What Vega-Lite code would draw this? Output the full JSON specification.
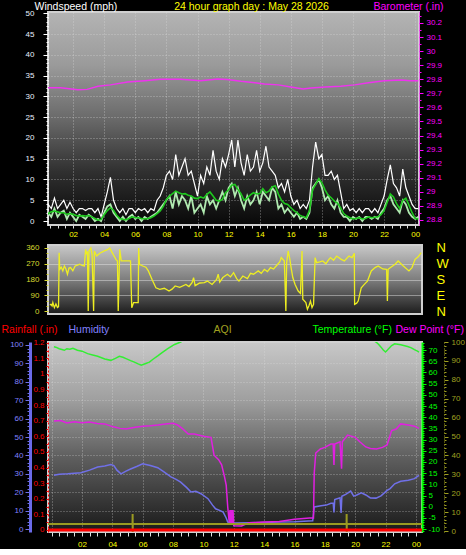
{
"$schema": "https://vega.github.io/schema/vega-lite/v6.json",
"background": "#000000",
"padding": 0,
"spacing": 1,
"config": {
 "font": "Liberation Sans",
 "axis": {"labelFont": "Liberation Sans", "titleFont": "Liberation Sans", "labelFontSize": 8, "titleFontSize": 10.5, "titleFontWeight": "normal", "labelOverlap": false, "labelFlush": false, "labelBound": false, "grid": false}
},
"datasets": {
 "wind": [
  {"t":0,"g":3,"w":1,"a":1},{"t":0.2,"g":2,"w":0,"a":1.2},{"t":0.4,"g":4,"w":2,"a":1.8},{"t":0.6,"g":3,"w":1,"a":2.2},{"t":0.8,"g":5.5,"w":3,"a":2.4},
  {"t":1,"g":3,"w":1,"a":2.2},{"t":1.2,"g":4,"w":2,"a":2},{"t":1.4,"g":5,"w":2.5,"a":2},{"t":1.6,"g":3,"w":0.5,"a":1.6},{"t":1.8,"g":4.5,"w":2,"a":1.8},
  {"t":2,"g":3,"w":1,"a":1.6},{"t":2.2,"g":2,"w":0,"a":1.3},{"t":2.4,"g":3,"w":1.5,"a":1.2},{"t":2.6,"g":3,"w":1,"a":1.3},{"t":2.8,"g":2.5,"w":0.5,"a":1.2},
  {"t":3,"g":3,"w":1.5,"a":1.3},{"t":3.2,"g":3,"w":1,"a":1},{"t":3.4,"g":2,"w":0,"a":0.6},{"t":3.6,"g":3,"w":0.5,"a":0.2},{"t":3.8,"g":1,"w":0,"a":0.4},
  {"t":4,"g":4,"w":2,"a":1.5},{"t":4.2,"g":7,"w":3.5,"a":2.5},{"t":4.4,"g":10.5,"w":4,"a":3.2},{"t":4.6,"g":5,"w":2,"a":2.6},{"t":4.8,"g":3,"w":1,"a":1.4},
  {"t":5,"g":2,"w":0,"a":0.6},{"t":5.2,"g":3,"w":1,"a":0.4},{"t":5.4,"g":1.5,"w":0,"a":0.3},{"t":5.6,"g":3,"w":1,"a":0.6},{"t":5.8,"g":3,"w":1.5,"a":1},
  {"t":6,"g":2,"w":0.5,"a":0.8},{"t":6.2,"g":3,"w":1,"a":0.8},{"t":6.4,"g":2.5,"w":0,"a":0.6},{"t":6.6,"g":3,"w":1,"a":0.5},{"t":6.8,"g":2,"w":0.5,"a":0.6},
  {"t":7,"g":3,"w":1,"a":0.8},{"t":7.2,"g":2.5,"w":1.5,"a":1.2},{"t":7.4,"g":5,"w":2,"a":1.8},{"t":7.6,"g":6,"w":3,"a":2.4},{"t":7.8,"g":8,"w":4,"a":3.5},
  {"t":8,"g":11,"w":5,"a":5.2},{"t":8.2,"g":12,"w":6,"a":6},{"t":8.4,"g":10,"w":3,"a":6.6},{"t":8.6,"g":16,"w":7,"a":7.2},{"t":8.8,"g":11,"w":4,"a":6.8},
  {"t":9,"g":13,"w":6,"a":6.5},{"t":9.2,"g":15,"w":5,"a":6.6},{"t":9.4,"g":11,"w":3,"a":6.2},{"t":9.6,"g":12,"w":6,"a":6},{"t":9.8,"g":9,"w":2,"a":5.5},
  {"t":10,"g":6,"w":3,"a":5.4},{"t":10.2,"g":11,"w":4,"a":5.8},{"t":10.4,"g":9,"w":2,"a":5.5},{"t":10.6,"g":13,"w":6,"a":6.4},{"t":10.8,"g":11,"w":4,"a":7},
  {"t":11,"g":17,"w":5,"a":6},{"t":11.2,"g":12,"w":3,"a":5},{"t":11.4,"g":10,"w":5,"a":4.8},{"t":11.6,"g":15,"w":7,"a":5.2},{"t":11.8,"g":13,"w":5,"a":6.8},
  {"t":12,"g":16,"w":8,"a":7.5},{"t":12.2,"g":19.5,"w":9,"a":8.6},{"t":12.4,"g":13,"w":6,"a":8.8},{"t":12.6,"g":19.5,"w":8,"a":7.6},{"t":12.8,"g":14,"w":5,"a":6.5},
  {"t":13,"g":11,"w":3,"a":5},{"t":13.2,"g":16,"w":6,"a":5.5},{"t":13.4,"g":12,"w":4,"a":6.3},{"t":13.6,"g":13,"w":5,"a":6.8},{"t":13.8,"g":17,"w":7,"a":6.5},
  {"t":14,"g":12,"w":4,"a":6.6},{"t":14.2,"g":14,"w":7,"a":7.8},{"t":14.4,"g":18,"w":6,"a":6.8},{"t":14.6,"g":13,"w":5,"a":7.2},{"t":14.8,"g":12,"w":8,"a":8.2},
  {"t":15,"g":11,"w":7,"a":8.5},{"t":15.2,"g":8,"w":3,"a":6.5},{"t":15.4,"g":9,"w":4,"a":5},{"t":15.6,"g":7,"w":2,"a":4.2},{"t":15.8,"g":10,"w":3,"a":4},
  {"t":16,"g":6,"w":2,"a":3.2},{"t":16.2,"g":4,"w":1,"a":2.5},{"t":16.4,"g":5,"w":2,"a":2},{"t":16.6,"g":3,"w":0.5,"a":1.3},{"t":16.8,"g":4,"w":1,"a":1},
  {"t":17,"g":3,"w":0.5,"a":0.8},{"t":17.2,"g":5,"w":2,"a":2.5},{"t":17.4,"g":13,"w":8,"a":7.5},{"t":17.6,"g":19,"w":9,"a":8.8},{"t":17.8,"g":15,"w":10,"a":10.2},
  {"t":18,"g":16,"w":8,"a":9.2},{"t":18.2,"g":11,"w":5,"a":7.5},{"t":18.4,"g":11,"w":6,"a":6.2},{"t":18.6,"g":12,"w":4,"a":5.6},{"t":18.8,"g":10,"w":3,"a":4.8},
  {"t":19,"g":11,"w":5,"a":4.3},{"t":19.2,"g":7,"w":2,"a":3.2},{"t":19.4,"g":3,"w":1,"a":1.8},{"t":19.6,"g":4,"w":1,"a":1.2},{"t":19.8,"g":2.5,"w":0,"a":0.8},
  {"t":20,"g":3,"w":1,"a":0.5},{"t":20.2,"g":2,"w":0.5,"a":0.6},{"t":20.4,"g":3,"w":1,"a":0.8},{"t":20.6,"g":2,"w":0,"a":0.5},{"t":20.8,"g":3,"w":1,"a":0.6},
  {"t":21,"g":3,"w":1,"a":1},{"t":21.2,"g":2,"w":0.5,"a":0.8},{"t":21.4,"g":3,"w":1,"a":0.9},{"t":21.6,"g":2,"w":0.5,"a":1},{"t":21.8,"g":4,"w":2,"a":1.5},
  {"t":22,"g":6,"w":3,"a":2.5},{"t":22.2,"g":10,"w":5,"a":4.5},{"t":22.4,"g":13.5,"w":6,"a":6.5},{"t":22.6,"g":9,"w":4,"a":5.8},{"t":22.8,"g":8,"w":3,"a":4.2},
  {"t":23,"g":6,"w":2,"a":3},{"t":23.2,"g":12.5,"w":5,"a":5},{"t":23.4,"g":8,"w":4,"a":5.5},{"t":23.6,"g":6,"w":2,"a":3.8},{"t":23.8,"g":4,"w":1,"a":2},
  {"t":24,"g":3,"w":0.5,"a":0.6},{"t":24.2,"g":3,"w":1,"a":0.5}
 ],
 "baro": [
  {"t":0.1,"p":29.74},{"t":1.2,"p":29.74},{"t":2.3,"p":29.726},{"t":2.9,"p":29.728},{"t":3.6,"p":29.75},{"t":4.4,"p":29.76},{"t":5.5,"p":29.78},
  {"t":6.6,"p":29.79},{"t":7.6,"p":29.8},{"t":8.9,"p":29.8},{"t":10.2,"p":29.79},{"t":11.3,"p":29.802},{"t":11.9,"p":29.798},{"t":12.8,"p":29.785},
  {"t":13.7,"p":29.775},{"t":14.3,"p":29.766},{"t":15.2,"p":29.76},{"t":16,"p":29.745},{"t":16.8,"p":29.73},{"t":17.3,"p":29.738},{"t":18.2,"p":29.745},
  {"t":19.2,"p":29.75},{"t":20.1,"p":29.76},{"t":21,"p":29.775},{"t":22,"p":29.79},{"t":23.1,"p":29.795},{"t":23.7,"p":29.79},{"t":24.2,"p":29.79}
 ],
 "dir": [
  {"t":0.05,"d":35},{"t":0.13,"d":38},{"t":0.2,"d":29},{"t":0.25,"d":48},{"t":0.35,"d":19},{"t":0.45,"d":40},{"t":0.55,"d":20},{"t":0.62,"d":25},{"t":0.66,"d":333},
  {"t":0.7,"d":238},{"t":0.8,"d":250},{"t":0.9,"d":229},{"t":1,"d":257},{"t":1.1,"d":240},{"t":1.2,"d":210},{"t":1.3,"d":245},{"t":1.4,"d":248},{"t":1.55,"d":230},
  {"t":1.7,"d":257},{"t":1.85,"d":262},{"t":2,"d":267},{"t":2.15,"d":260},{"t":2.3,"d":257},{"t":2.38,"d":352},{"t":2.45,"d":324},{"t":2.5,"d":340},{"t":2.55,"d":0},
  {"t":2.6,"d":343},{"t":2.72,"d":360},{"t":2.8,"d":324},{"t":2.9,"d":0},{"t":2.95,"d":343},{"t":3.1,"d":314},{"t":3.3,"d":330},{"t":3.6,"d":343},{"t":3.8,"d":350},
  {"t":3.95,"d":360},{"t":4.1,"d":335},{"t":4.35,"d":295},{"t":4.45,"d":286},{"t":4.5,"d":0},{"t":4.6,"d":352},{"t":4.7,"d":286},{"t":5,"d":286},{"t":5.3,"d":286},
  {"t":5.38,"d":19},{"t":5.5,"d":48},{"t":5.8,"d":48},{"t":5.83,"d":360},{"t":5.88,"d":267},{"t":6.1,"d":257},{"t":6.3,"d":250},{"t":6.46,"d":229},{"t":6.7,"d":180},
  {"t":6.95,"d":133},{"t":7.2,"d":124},{"t":7.5,"d":130},{"t":7.8,"d":114},{"t":8,"d":125},{"t":8.2,"d":143},{"t":8.5,"d":135},{"t":8.9,"d":152},{"t":9.1,"d":140},
  {"t":9.3,"d":162},{"t":9.4,"d":190},{"t":9.5,"d":145},{"t":9.8,"d":160},{"t":10.1,"d":162},{"t":10.3,"d":171},{"t":10.6,"d":152},{"t":10.9,"d":181},{"t":11,"d":210},
  {"t":11.1,"d":165},{"t":11.3,"d":191},{"t":11.6,"d":210},{"t":11.8,"d":195},{"t":12,"d":219},{"t":12.2,"d":185},{"t":12.35,"d":171},{"t":12.6,"d":200},{"t":12.9,"d":185},
  {"t":13.1,"d":215},{"t":13.3,"d":210},{"t":13.6,"d":229},{"t":13.8,"d":215},{"t":14,"d":238},{"t":14.2,"d":225},{"t":14.4,"d":248},{"t":14.6,"d":240},{"t":14.87,"d":267},
  {"t":15,"d":280},{"t":15.1,"d":305},{"t":15.3,"d":285},{"t":15.4,"d":0},{"t":15.45,"d":276},{"t":15.55,"d":343},{"t":15.65,"d":300},{"t":15.74,"d":248},{"t":15.85,"d":191},
  {"t":16,"d":152},{"t":16.2,"d":114},{"t":16.35,"d":100},{"t":16.45,"d":343},{"t":16.5,"d":67},{"t":16.7,"d":48},{"t":16.8,"d":10},{"t":16.9,"d":30},{"t":17,"d":57},
  {"t":17.1,"d":20},{"t":17.2,"d":38},{"t":17.3,"d":305},{"t":17.4,"d":276},{"t":17.6,"d":280},{"t":17.8,"d":286},{"t":18,"d":270},{"t":18.2,"d":295},{"t":18.3,"d":305},
  {"t":18.5,"d":290},{"t":18.7,"d":314},{"t":19,"d":295},{"t":19.2,"d":286},{"t":19.5,"d":314},{"t":19.7,"d":305},{"t":19.85,"d":330},{"t":19.87,"d":38},{"t":20,"d":45},
  {"t":20.1,"d":57},{"t":20.3,"d":133},{"t":20.5,"d":152},{"t":20.7,"d":170},{"t":20.95,"d":229},{"t":21.2,"d":248},{"t":21.4,"d":257},{"t":21.7,"d":240},{"t":21.95,"d":238},
  {"t":22,"d":57},{"t":22.05,"d":238},{"t":22.2,"d":248},{"t":22.5,"d":267},{"t":22.7,"d":286},{"t":23,"d":260},{"t":23.4,"d":229},{"t":23.6,"d":248},{"t":23.8,"d":295},
  {"t":24,"d":310},{"t":24.2,"d":333}
 ],
 "temp": [
  {"t":0.15,"v":71.5},{"t":0.27,"v":71.3},{"t":0.5,"v":70.6},{"t":0.84,"v":69.9},{"t":1,"v":70.6},{"t":1.2,"v":70.4},{"t":1.4,"v":70.8},{"t":1.7,"v":69.9},
  {"t":2,"v":69.5},{"t":2.37,"v":68.4},{"t":2.7,"v":67.8},{"t":3.03,"v":67.2},{"t":3.5,"v":66},{"t":3.9,"v":65.4},{"t":4.2,"v":66.3},{"t":4.46,"v":67.2},
  {"t":4.7,"v":66.8},{"t":4.9,"v":66.2},{"t":5.2,"v":65.3},{"t":5.45,"v":64.6},{"t":5.7,"v":63.8},{"t":5.9,"v":63.2},{"t":6.2,"v":64},{"t":6.44,"v":64.6},
  {"t":6.7,"v":66},{"t":6.99,"v":67.4},{"t":7.3,"v":69},{"t":7.65,"v":70.6},{"t":8.1,"v":72.5},{"t":8.5,"v":73.6},{"t":9,"v":75.5},{"t":10,"v":78},{"t":11,"v":80},
  {"t":12,"v":82},{"t":13,"v":84},{"t":14,"v":85},{"t":15,"v":85},{"t":16,"v":84},{"t":17,"v":82},{"t":18,"v":80},{"t":19,"v":78},{"t":20,"v":76},{"t":20.8,"v":75},
  {"t":21.2,"v":74.2},{"t":21.37,"v":73.6},{"t":21.55,"v":72.5},{"t":21.7,"v":71.3},{"t":21.85,"v":70},{"t":22,"v":69.1},{"t":22.2,"v":70.6},{"t":22.4,"v":72},
  {"t":22.6,"v":72.8},{"t":23,"v":72.4},{"t":23.45,"v":71.6},{"t":23.7,"v":71},{"t":23.9,"v":70.2},{"t":24.1,"v":69.5},{"t":24.2,"v":69.1}
 ],
 "dew": [
  {"t":0.15,"v":38.3},{"t":0.6,"v":38.5},{"t":1,"v":37.4},{"t":1.5,"v":38},{"t":2,"v":37.5},{"t":2.5,"v":37.8},{"t":3,"v":37.2},{"t":3.5,"v":37},{"t":4,"v":35.8},
  {"t":4.5,"v":35},{"t":4.9,"v":34.7},{"t":5.5,"v":35.5},{"t":6,"v":36},{"t":6.5,"v":36.2},{"t":7,"v":36.5},{"t":7.5,"v":37},{"t":8,"v":37.3},{"t":8.3,"v":36.5},
  {"t":8.6,"v":35},{"t":9,"v":32.5},{"t":9.4,"v":32.5},{"t":10,"v":31.5},{"t":10.5,"v":31},{"t":10.7,"v":23},{"t":11,"v":21},{"t":11.2,"v":18.7},{"t":11.4,"v":13},
  {"t":11.5,"v":9.7},{"t":11.6,"v":0},{"t":11.7,"v":-7},{"t":11.75,"v":-1.5},{"t":11.8,"v":-8},{"t":11.85,"v":-1.5},{"t":11.9,"v":-8},{"t":11.95,"v":-1.5},
  {"t":12,"v":-8.5},{"t":12.5,"v":-8.6},{"t":13,"v":-7.2},{"t":14,"v":-6.8},{"t":15,"v":-6.6},{"t":16,"v":-5.6},{"t":17,"v":-5},{"t":17.25,"v":-5},{"t":17.3,"v":15},
  {"t":17.4,"v":24},{"t":17.7,"v":25.8},{"t":18,"v":26.5},{"t":18.4,"v":28},{"t":18.55,"v":28},{"t":18.6,"v":18.7},{"t":18.65,"v":28},{"t":19,"v":29},{"t":19.1,"v":17},
  {"t":19.15,"v":29},{"t":19.5,"v":32},{"t":20,"v":31},{"t":20.3,"v":29},{"t":20.7,"v":26.7},{"t":21,"v":26},{"t":21.4,"v":25.8},{"t":21.8,"v":26.5},{"t":22.1,"v":27.6},
  {"t":22.4,"v":34},{"t":22.7,"v":34.7},{"t":23,"v":37},{"t":23.5,"v":36.5},{"t":23.9,"v":36},{"t":24.2,"v":35}
 ],
 "hum": [
  {"t":0.15,"h":29.2},{"t":0.5,"h":29.8},{"t":1.06,"h":30},{"t":1.5,"h":30.3},{"t":1.93,"h":30.6},{"t":2.5,"h":32},{"t":3.03,"h":33.7},{"t":3.5,"h":34.2},
  {"t":3.9,"h":35},{"t":4.1,"h":34.5},{"t":4.3,"h":32},{"t":4.57,"h":30},{"t":4.9,"h":31.5},{"t":5.2,"h":32.6},{"t":5.6,"h":34},{"t":6,"h":35.5},{"t":6.5,"h":34.5},
  {"t":6.99,"h":33.3},{"t":7.4,"h":31},{"t":7.86,"h":28.3},{"t":8.2,"h":27},{"t":8.5,"h":25.5},{"t":8.9,"h":22.5},{"t":9.18,"h":20.1},{"t":9.5,"h":20.5},{"t":9.84,"h":19.2},
  {"t":10.3,"h":16.5},{"t":10.6,"h":13},{"t":10.8,"h":11},{"t":11.1,"h":10},{"t":11.3,"h":9.2},{"t":11.5,"h":6},{"t":11.6,"h":3.8},{"t":12,"h":3.3},{"t":13,"h":3.4},
  {"t":14,"h":3.6},{"t":15,"h":3.8},{"t":16,"h":4},{"t":17.2,"h":4.5},{"t":17.3,"h":12},{"t":17.75,"h":12.7},{"t":18.1,"h":13},{"t":18.4,"h":14},{"t":18.55,"h":14},
  {"t":18.6,"h":9},{"t":18.65,"h":16},{"t":19,"h":17},{"t":19.07,"h":8.7},{"t":19.12,"h":17.8},{"t":19.4,"h":19},{"t":19.7,"h":20.6},{"t":19.9,"h":17.9},{"t":20.1,"h":18.5},
  {"t":20.4,"h":19.7},{"t":20.7,"h":18.5},{"t":21,"h":16.9},{"t":21.37,"h":16.8},{"t":21.7,"h":18},{"t":22.1,"h":21},{"t":22.3,"h":22},{"t":22.6,"h":24.6},{"t":23,"h":26},
  {"t":23.5,"h":26.5},{"t":23.9,"h":27.4},{"t":24.2,"h":29.2}
 ],
 "aqi": [
  {"t":-0.3,"q":3.7},{"t":5.33,"q":3.7},{"t":5.335,"q":9},{"t":5.34,"q":-0.5},{"t":5.345,"q":3.7},{"t":19.43,"q":3.7},{"t":19.435,"q":9},{"t":19.44,"q":-0.5},{"t":19.445,"q":3.7},{"t":24.5,"q":3.7}
 ],
 "rain": [{"t":-0.3,"r":0},{"t":24.5,"r":0}]
},
"vconcat": [
 {
  "width": 371, "height": 213,
  "view": {"fill": {"gradient": "linear", "x1": 0, "y1": 0, "x2": 0, "y2": 1, "stops": [{"offset": 0, "color": "#b4b4b4"}, {"offset": 0.25, "color": "#9a9a9a"}, {"offset": 0.5, "color": "#6a6a6a"}, {"offset": 0.75, "color": "#303030"}, {"offset": 1, "color": "#080808"}]}, "stroke": "#d0d0d0", "strokeWidth": 2},
  "encoding": {"x": {"field": "t", "type": "quantitative", "scale": {"domain": [0.386, 24.244], "nice": false, "zero": false},
    "axis": {"title": null, "tickCount": 48, "labelExpr": "datum.value % 2 === 0 ? (datum.value % 24 < 10 ? '0' : '') + (datum.value % 24) : ''", "labelColor": "#ffff00", "tickColor": "#e0e0e0", "tickSize": 3, "labelPadding": 2, "domainColor": "#d0d0d0", "grid": true, "gridColor": "#e0e0e0", "gridDash": [1, 2], "gridOpacity": {"condition": {"test": "datum.value % 2 === 0", "value": 0.55}, "value": 0}}}},
  "layer": [
   {"data": {"name": "wind"},
    "layer": [
     {"mark": {"type": "line", "color": "#ffffff", "strokeWidth": 1.2, "clip": true},
      "encoding": {"y": {"field": "g", "type": "quantitative", "title": "Windspeed (mph)", "scale": {"domain": [-0.96, 50.3], "nice": false, "zero": false},
        "axis": {"orient": "left", "titleColor": "#ffffff", "titleAngle": 0, "titleAlign": "left", "titleBaseline": "middle", "titleX": -14, "titleY": -6,
          "tickCount": 50, "labelExpr": "datum.value % 5 === 0 ? datum.label : ''", "labelColor": "#e8f0ff", "labelPadding": 9,
          "tickColor": "#ffffff", "tickSize": {"condition": {"test": "datum.value % 5 === 0", "value": 5}, "value": 2},
          "domainColor": "#ffffff", "domainDash": [1, 2], "grid": true, "gridColor": "#e0e0e0", "gridDash": [1, 2],
          "gridOpacity": {"condition": {"test": "datum.value % 5 === 0 && datum.value > 0 && datum.value < 50", "value": 0.55}, "value": 0}}}}},
     {"mark": {"type": "line", "color": "#b0eab0", "strokeWidth": 1.8, "clip": true},
      "encoding": {"y": {"field": "w", "type": "quantitative", "title": "Windspeed (mph)"}}},
     {"mark": {"type": "line", "color": "#1ec81e", "strokeWidth": 1.6, "clip": true},
      "encoding": {"y": {"field": "a", "type": "quantitative", "title": "Windspeed (mph)"}}}
    ]},
   {"data": {"name": "baro"},
    "mark": {"type": "line", "color": "#ee33ee", "strokeWidth": 1.5, "clip": true},
    "encoding": {"y": {"field": "p", "type": "quantitative", "title": "Barometer (.in)", "scale": {"domain": [28.764, 30.278], "nice": false, "zero": false},
      "axis": {"orient": "right", "titleColor": "#ff00ff", "titleAngle": 0, "titleAlign": "left", "titleBaseline": "middle", "titleX": -46, "titleY": -6,
        "tickCount": 30, "labelExpr": "round(datum.value * 100) % 10 === 0 ? '' + round(datum.value * 10) / 10 : ''", "labelColor": "#ff00ff", "labelPadding": 3,
        "tickColor": "#ff00ff", "tickSize": {"condition": {"test": "round(datum.value * 100) % 10 === 0", "value": 4}, "value": 2},
        "domainColor": "#ff00ff", "domainDash": [1, 1]}}}},
   {"data": {"name": "baro"},
    "mark": {"type": "line", "opacity": 0},
    "encoding": {"y": {"field": "p", "type": "quantitative", "title": "24 hour graph day : May 28 2026", "scale": {"domain": [28.764, 30.278], "nice": false, "zero": false},
      "axis": {"orient": "left", "titleColor": "#ffff00", "titleAngle": 0, "titleAlign": "center", "titleBaseline": "middle", "titleX": 203, "titleY": -6,
        "labels": false, "ticks": false, "domain": false, "grid": false}}}}
  ],
  "resolve": {"scale": {"y": "independent"}}
 },
 {
  "width": 374, "height": 69,
  "view": {"fill": {"gradient": "linear", "x1": 0, "y1": 0, "x2": 0, "y2": 1, "stops": [{"offset": 0, "color": "#c8c8c8"}, {"offset": 0.5, "color": "#7e7e7e"}, {"offset": 1, "color": "#1c1c1c"}]}, "stroke": "#d0d0d0", "strokeWidth": 2},
  "data": {"name": "dir"},
  "encoding": {"x": {"field": "t", "type": "quantitative", "scale": {"domain": [-0.065, 24.25], "nice": false, "zero": false},
    "axis": {"title": null, "labels": false, "domain": false, "ticks": true, "tickOpacity": 0, "tickSize": 6.5, "tickCount": 12, "grid": false}}},
  "layer": [
   {"mark": {"type": "line", "color": "#eeee22", "strokeWidth": 1.3, "clip": true},
    "encoding": {"y": {"field": "d", "type": "quantitative", "title": null, "scale": {"domain": [-17, 377], "nice": false, "zero": false},
      "axis": {"orient": "left", "values": [0, 30, 60, 90, 120, 150, 180, 210, 240, 270, 300, 330, 360],
        "labelExpr": "datum.value % 90 === 0 ? datum.label : ''", "labelColor": "#d8d830", "labelPadding": 5,
        "tickColor": "#d8d830", "tickSize": {"condition": {"test": "datum.value % 90 === 0", "value": 4}, "value": 2},
        "domain": false, "grid": true, "gridColor": "#e8e8e8",
        "gridOpacity": {"condition": {"test": "datum.value % 90 === 0 && datum.value > 0 && datum.value < 360", "value": 0.45}, "value": 0}}}}},
   {"mark": {"type": "line", "opacity": 0},
    "encoding": {"y": {"field": "d", "type": "quantitative", "title": null, "scale": {"domain": [-17, 377], "nice": false, "zero": false},
      "axis": {"orient": "right", "values": [0, 90, 180, 270, 360],
        "labelExpr": "datum.value === 270 ? 'W' : (datum.value === 180 ? 'S' : (datum.value === 90 ? 'E' : 'N'))",
        "labelColor": "#ffff00", "labelFontSize": 13, "labelPadding": 14, "ticks": false, "domain": false, "grid": false}}}}
  ],
  "resolve": {"scale": {"y": "independent"}}
 },
 {
  "width": 374, "height": 190,
  "view": {"fill": {"gradient": "linear", "x1": 0, "y1": 0, "x2": 0, "y2": 1, "stops": [{"offset": 0, "color": "#c8c8c8"}, {"offset": 0.3, "color": "#a0a0a0"}, {"offset": 0.6, "color": "#606060"}, {"offset": 1, "color": "#1a1a1a"}]}, "stroke": "#d0d0d0", "strokeWidth": 2},
  "encoding": {"x": {"field": "t", "type": "quantitative", "scale": {"domain": [-0.24, 24.4], "nice": false, "zero": false},
    "axis": {"title": null, "tickCount": 48, "labelExpr": "datum.value % 2 === 0 && datum.value > 0 ? (datum.value % 24 < 10 ? '0' : '') + (datum.value % 24) : ''", "labelColor": "#ffff00", "tickColor": "#e0e0e0", "tickSize": 4, "labelPadding": 4, "domainColor": "#d0d0d0", "grid": true, "gridColor": "#e0e0e0", "gridDash": [1, 2], "gridOpacity": {"condition": {"test": "datum.value % 2 === 0", "value": 0.55}, "value": 0}}}},
  "layer": [
   {"data": {"name": "hum"},
    "mark": {"type": "line", "color": "#7070e8", "strokeWidth": 1.5, "clip": true},
    "encoding": {"y": {"field": "h", "type": "quantitative", "title": "Humidity", "scale": {"domain": [-1.6, 101.6], "nice": false, "zero": false},
      "axis": {"orient": "left", "offset": 18, "titleColor": "#8080ff", "titleAngle": 0, "titleAlign": "left", "titleBaseline": "middle", "titleX": 38, "titleY": -13,
        "tickCount": 50, "labelExpr": "datum.value % 10 === 0 ? datum.label : ''", "labelColor": "#8080ff", "labelPadding": 2,
        "tickColor": "#7070e8", "tickSize": {"condition": {"test": "datum.value % 10 === 0", "value": 5}, "value": 3},
        "domainColor": "#6a6ae8", "domainWidth": 3, "grid": true, "gridColor": "#e0e0e0", "gridDash": [1, 2],
        "gridOpacity": {"condition": {"test": "datum.value % 10 === 0 && datum.value > 0 && datum.value < 100", "value": 0.5}, "value": 0}}}}},
   {"data": {"name": "dew"},
    "mark": {"type": "line", "color": "#e020e0", "strokeWidth": 1.5, "clip": true},
    "encoding": {"y": {"field": "v", "type": "quantitative", "title": "Dew Point (°F)", "scale": {"domain": [-11.3, 73.6], "nice": false, "zero": false},
      "axis": {"orient": "right", "titleColor": "#ff00ff", "titleAngle": 0, "titleAlign": "left", "titleBaseline": "middle", "titleX": -27, "titleY": -13,
        "labels": false, "ticks": false, "domain": false, "grid": false}}}},
   {"data": {"name": "temp"},
    "mark": {"type": "line", "color": "#33ee33", "strokeWidth": 1.5, "clip": true},
    "encoding": {"y": {"field": "v", "type": "quantitative", "title": "Temperature (°F)", "scale": {"domain": [-11.3, 73.6], "nice": false, "zero": false},
      "axis": {"orient": "right", "titleColor": "#00ff00", "titleAngle": 0, "titleAlign": "left", "titleBaseline": "middle", "titleX": -110, "titleY": -13,
        "tickCount": 85, "labelExpr": "datum.value % 5 === 0 ? '' + datum.value : ''", "labelColor": "#00ff00", "labelPadding": 2,
        "tickColor": "#00ff00", "tickSize": {"condition": {"test": "datum.value % 5 === 0", "value": 4}, "value": 2},
        "domainColor": "#00ff00", "domainWidth": 2}}}},
   {"data": {"name": "aqi"},
    "mark": {"type": "line", "color": "#9a9a22", "strokeWidth": 2, "clip": true},
    "encoding": {"y": {"field": "q", "type": "quantitative", "title": "AQI", "scale": {"domain": [-0.5, 100], "nice": false, "zero": false},
      "axis": {"orient": "right", "offset": 22, "titleColor": "#a0a020", "titleAngle": 0, "titleAlign": "left", "titleBaseline": "middle", "titleX": -231, "titleY": -13,
        "tickCount": 50, "labelExpr": "datum.value % 10 === 0 ? datum.label : ''", "labelColor": "#a0a020", "labelPadding": 3,
        "tickColor": "#a0a020", "tickSize": {"condition": {"test": "datum.value % 10 === 0", "value": 4}, "value": 2},
        "domainColor": "#a0a020", "domainDash": [1, 2]}}}},
   {"data": {"name": "rain"},
    "mark": {"type": "line", "color": "#ff0000", "strokeWidth": 3, "clip": true},
    "encoding": {"y": {"field": "r", "type": "quantitative", "title": "Rainfall (.in)", "scale": {"domain": [-0.013, 1.205], "nice": false, "zero": false},
      "axis": {"orient": "left", "titleColor": "#ff0000", "titleAngle": 0, "titleAlign": "left", "titleBaseline": "middle", "titleX": -47, "titleY": -13,
        "tickCount": 24, "labelExpr": "round(datum.value * 100) % 10 === 0 ? '' + round(datum.value * 10) / 10 : ''", "labelColor": "#ff0000", "labelPadding": 2,
        "tickColor": "#ff0000", "tickSize": 2, "domainColor": "#ff0000", "domainDash": [2, 2]}}}}
  ],
  "resolve": {"scale": {"y": "independent"}}
 }
]
}
